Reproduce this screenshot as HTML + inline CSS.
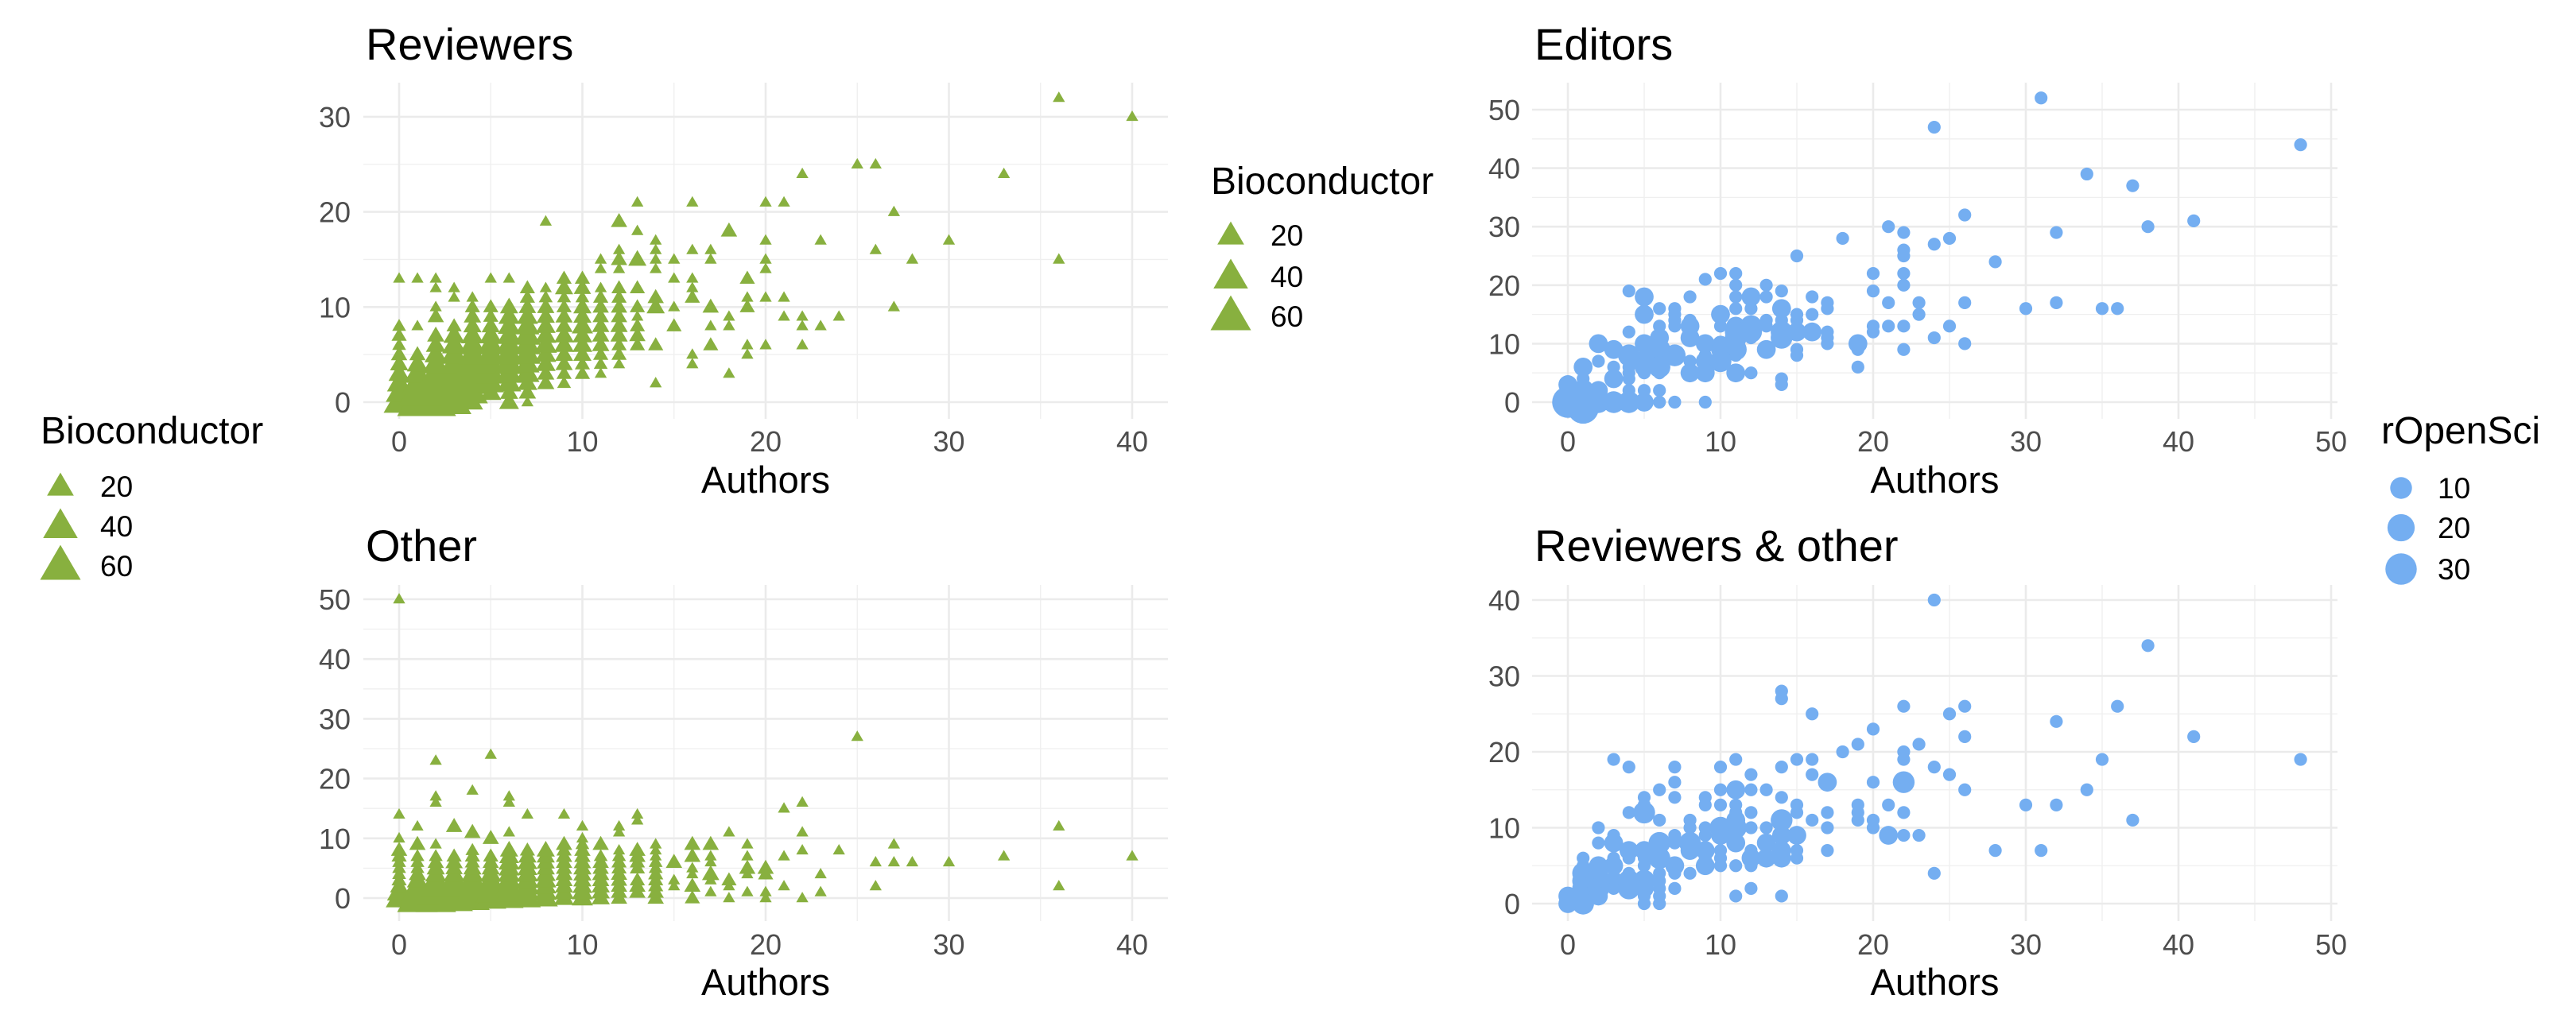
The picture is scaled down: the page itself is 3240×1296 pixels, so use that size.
<!DOCTYPE html>
<html><head><meta charset="utf-8"><style>
html,body{margin:0;padding:0;background:#fff;}
svg{display:block;font-family:"Liberation Sans",sans-serif;}
</style></head><body>
<svg id="chart" width="3240" height="1296" viewBox="0 0 3240 1296" xmlns="http://www.w3.org/2000/svg"></svg>
<script>
// Data: [authors, value, count]
const reviewersData = [
[36,32,1],[40,30,1],[25,25,1],[26,25,1],[22,24,1],[33,24,1],[13,21,1],[16,21,1],[20,21,1],[21,21,1],[8,19,1],[12,19,4],[27,20,1],[13,18,1],[18,18,4],[14,17,1],[20,17,1],[23,17,1],[30,17,1],[12,16,1],[14,16,1],[16,16,1],[17,16,1],[26,16,1],[11,15,1],[12,15,4],[13,15,6],[14,15,1],[15,15,1],[17,15,1],[20,15,1],[28,15,1],[36,15,1],[11,14,1],[12,14,1],[14,14,1],[20,14,1],[0,13,1],[1,13,1],[2,13,1],[5,13,1],[6,13,1],[9,13,3],[10,13,3],[15,13,1],[16,13,1],[19,13,3],[2,12,1],[3,12,1],[8,12,1],[11,12,1],[12,12,3],[13,12,3],[16,12,1],[3,11,1],[4,11,1],[8,11,2],[11,11,3],[12,11,3],[14,11,4],[16,11,3],[19,11,1],[20,11,1],[21,11,1],[2,10,1],[4,10,3],[5,10,3],[6,10,6],[7,10,5],[9,10,3],[10,10,6],[13,10,3],[14,10,6],[15,10,1],[17,10,4],[19,10,3],[27,10,1],[0,8,2],[1,8,1],[2,9,4],[18,9,1],[21,9,1],[22,9,1],[24,9,1],[22,8,1],[23,8,1],[18,8,1],[15,8,3],[17,8,1],[19,6,1],[20,6,1],[22,6,1],[17,6,3],[14,6,3],[16,5,1],[19,5,1],[16,4,1],[12,4,1],[11,3,1],[18,3,1],[14,2,1],
[0,0,30],[0,1,20],[0,2,15],[0,3,10],[0,4,6],[0,5,4],[0,6,2],[0,7,3],
[1,0,60],[1,1,50],[1,2,30],[1,3,20],[1,4,10],[1,5,4],
[2,0,60],[2,1,50],[2,2,40],[2,3,30],[2,4,20],[2,5,12],[2,6,8],[2,7,5],
[3,0,40],[3,1,40],[3,2,40],[3,3,30],[3,4,25],[3,5,20],[3,6,15],[3,7,10],[3,8,3],
[4,0,10],[4,1,30],[4,2,30],[4,3,30],[4,4,30],[4,5,25],[4,6,20],[4,7,12],[4,8,6],[4,9,5],
[5,1,10],[5,2,20],[5,3,25],[5,4,25],[5,5,25],[5,6,20],[5,7,12],[5,8,6],[5,9,3],
[6,0,8],[6,1,6],[6,2,15],[6,3,20],[6,4,25],[6,5,25],[6,6,20],[6,7,15],[6,8,12],[6,9,10],
[7,0,1],[7,1,5],[7,2,8],[7,3,15],[7,4,15],[7,5,20],[7,6,20],[7,7,20],[7,8,15],[7,9,10],[7,11,3],[7,12,3],
[8,2,5],[8,3,5],[8,4,8],[8,5,10],[8,6,12],[8,7,10],[8,8,8],[8,9,6],[8,10,5],
[9,2,2],[9,3,3],[9,4,5],[9,5,6],[9,6,8],[9,7,8],[9,8,5],[9,9,5],[9,11,2],[9,12,6],
[10,3,3],[10,4,3],[10,5,6],[10,6,8],[10,7,8],[10,8,10],[10,9,6],[10,11,2],[10,12,5],
[11,4,2],[11,5,3],[11,6,5],[11,7,5],[11,8,5],[11,9,4],[11,10,4],
[12,5,3],[12,6,3],[12,7,5],[12,8,5],[12,9,4],[12,10,4],
[13,6,3],[13,7,4],[13,8,3],[13,9,1]
];
const otherData = [
[0,50,1],[25,27,1],[5,24,1],[2,23,1],[4,18,1],[2,17,1],[6,17,1],[2,16,1],[6,16,1],[22,16,1],[21,15,1],[0,14,1],[7,14,1],[9,14,1],[13,14,1],[13,13,1],[1,12,1],[3,12,4],[10,12,1],[12,12,1],[36,12,1],[4,11,4],[6,11,1],[12,11,1],[18,11,1],[22,11,1],[0,10,1],[5,10,4],[10,10,1],[1,9,4],[2,9,1],[9,9,4],[11,9,4],[14,9,1],[16,9,4],[17,9,4],[19,9,1],[27,9,1],[0,8,4],[13,8,4],[22,8,1],[24,8,1],[21,7,1],[33,7,1],[40,7,1],[36,2,1],[26,2,1],[26,6,1],[27,6,1],[28,6,1],[30,6,1],[23,4,1],[23,1,1],[20,0,1],[22,0,1],[18,0,1],[18,2,1],[19,1,1],[21,2,1],[15,6,4],[15,3,1],[15,2,1],[16,7,4],[16,5,1],[16,4,1],[16,2,4],[16,0,3],[17,7,1],[17,6,1],[17,4,5],[17,3,1],[17,1,1],[18,3,3],[19,5,4],[19,4,1],[19,7,1],[20,5,4],[20,4,3],[20,1,1],
[0,0,20],[0,1,15],[0,2,6],[0,3,3],[0,4,2],[0,5,2],[0,6,2],[0,7,3],
[1,0,60],[1,1,40],[1,2,20],[1,3,10],[1,4,5],[1,5,2],[1,6,2],[1,7,2],
[2,0,60],[2,1,50],[2,2,30],[2,3,20],[2,4,10],[2,5,6],[2,6,4],[2,7,2],
[3,0,50],[3,1,40],[3,2,30],[3,3,20],[3,4,10],[3,5,5],[3,6,5],[3,7,3],
[4,0,40],[4,1,40],[4,2,25],[4,3,20],[4,4,12],[4,5,6],[4,6,3],[4,7,3],[4,8,2],
[5,0,30],[5,1,30],[5,2,20],[5,3,15],[5,4,10],[5,5,6],[5,6,4],[5,7,3],
[6,0,25],[6,1,20],[6,2,20],[6,3,15],[6,4,12],[6,5,10],[6,6,10],[6,7,8],[6,8,6],
[7,0,20],[7,1,15],[7,2,15],[7,3,12],[7,4,10],[7,5,8],[7,6,8],[7,7,6],[7,8,3],
[8,0,15],[8,1,12],[8,2,10],[8,3,10],[8,4,8],[8,5,6],[8,6,6],[8,7,6],[8,8,6],
[9,0,8],[9,1,8],[9,2,6],[9,3,5],[9,4,5],[9,5,4],[9,6,4],[9,7,4],[9,8,3],
[10,0,10],[10,1,10],[10,2,8],[10,3,6],[10,4,6],[10,5,6],[10,6,5],[10,7,4],[10,8,4],[10,9,2],
[11,0,6],[11,1,6],[11,2,6],[11,3,5],[11,4,5],[11,5,4],[11,6,4],[11,7,2],
[12,0,4],[12,1,4],[12,2,4],[12,3,4],[12,4,4],[12,5,3],[12,6,3],[12,7,2],[12,8,1],
[13,1,4],[13,2,4],[13,3,3],[13,5,3],[13,6,3],[13,7,4],
[14,0,4],[14,1,4],[14,2,3],[14,3,3],[14,4,3],[14,5,2],[14,6,2],[14,7,1],[14,8,1]
];
const editorsData = [
[31,52,1],[24,47,1],[48,44,1],[34,39,1],[37,37,1],[41,31,1],[26,32,1],[21,30,1],[38,30,1],[22,29,1],[32,29,1],[18,28,1],[25,28,1],[24,27,1],[22,26,1],[22,25,1],[15,25,1],[28,24,1],[10,22,1],[11,22,1],[20,22,1],[22,22,1],[9,21,1],[11,20,1],[13,20,1],[22,20,1],[4,19,1],[14,19,1],[20,19,1],[5,18,6],[8,18,1],[11,18,1],[12,18,6],[13,18,1],[16,18,1],[6,16,1],[7,16,1],[14,16,6],[17,17,1],[17,16,1],[21,17,1],[23,17,1],[26,17,1],[30,16,1],[32,17,1],[35,16,1],[36,16,1],[5,15,6],[7,15,1],[10,15,6],[11,16,1],[12,16,1],[15,15,1],[16,15,1],[23,15,1],[7,14,1],[8,14,1],[13,14,1],[14,14,1],[15,14,1],[6,13,1],[7,13,1],[8,13,6],[10,13,1],[11,13,6],[12,13,10],[13,13,1],[20,13,1],[21,13,1],[22,13,1],[25,13,1],[4,12,1],[11,12,10],[12,12,10],[14,12,10],[15,12,6],[16,12,6],[17,12,1],[20,12,1],[24,11,1],[6,11,6],[8,11,6],[11,11,10],[12,11,1],[14,11,10],[17,11,1],[2,10,6],[5,10,6],[9,10,6],[10,10,3],[19,10,6],[26,10,1],[3,9,6],[6,9,10],[10,9,6],[11,9,10],[13,9,6],[15,9,1],[17,10,1],[19,9,1],[4,8,10],[7,8,10],[9,8,1],[11,8,1],[15,8,1],[22,9,1],[2,7,1],[5,7,10],[8,7,1],[9,7,6],[10,7,10],[1,6,6],[3,6,1],[4,6,1],[5,6,6],[6,6,10],[19,6,1],[4,5,1],[5,5,1],[6,5,1],[8,5,6],[9,5,6],[11,5,6],[12,5,1],[1,4,1],[3,4,6],[4,4,1],[14,4,1],[14,3,1],[0,3,6],[0,2,1],[2,2,6],[4,2,1],[5,2,1],[6,2,1],[0,0,30],[1,0,30],[1,1,20],[2,0,10],[3,0,10],[4,0,10],[5,0,6],[6,0,1],[7,0,1],[9,0,1],[1,2,10],[2,1,6],[0,1,10],[1,-1,30]
];
const revOtherData = [
[24,40,1],[38,34,1],[14,28,1],[14,27,1],[22,26,1],[26,26,1],[36,26,1],[16,25,1],[25,25,1],[32,24,1],[20,23,1],[26,22,1],[41,22,1],[19,21,1],[23,21,1],[18,20,1],[22,20,1],[3,19,1],[11,19,1],[15,19,1],[16,19,1],[22,19,1],[35,19,1],[48,19,1],[4,18,1],[7,18,1],[10,18,1],[14,18,1],[24,18,1],[12,17,1],[16,17,1],[25,17,1],[7,16,1],[17,16,6],[20,16,1],[22,16,10],[6,15,1],[10,15,1],[11,15,6],[12,15,1],[13,15,1],[26,15,1],[34,15,1],[5,14,1],[7,14,1],[9,14,1],[14,14,1],[5,13,1],[9,13,1],[10,13,1],[11,13,1],[15,13,1],[19,13,1],[21,13,1],[30,13,1],[32,13,1],[4,12,1],[5,12,10],[11,12,1],[12,12,1],[15,12,1],[17,12,1],[19,12,1],[22,12,1],[6,11,1],[8,11,1],[11,11,6],[14,11,10],[16,11,1],[19,11,1],[20,11,1],[37,11,1],[2,10,1],[8,10,1],[9,10,1],[10,10,10],[11,10,10],[12,10,1],[13,10,1],[17,10,1],[20,10,1],[3,9,1],[7,9,1],[9,9,1],[10,9,6],[14,9,6],[15,9,6],[21,9,6],[22,9,1],[23,9,1],[2,8,1],[3,8,6],[6,8,10],[7,8,1],[8,8,10],[11,8,6],[13,8,6],[4,7,6],[5,7,6],[8,7,6],[9,7,6],[10,7,1],[12,7,1],[14,7,6],[15,7,1],[17,7,1],[28,7,1],[31,7,1],[1,6,1],[3,6,1],[4,6,1],[5,6,1],[6,6,10],[9,6,1],[10,6,1],[12,6,6],[13,6,6],[14,6,6],[15,6,1],[1,5,1],[2,5,6],[3,5,6],[5,5,1],[7,5,6],[9,5,6],[10,5,1],[11,5,1],[12,5,1],[1,4,10],[2,4,6],[4,4,1],[6,4,1],[7,4,1],[8,4,1],[24,4,1],[1,3,10],[2,3,6],[3,3,6],[4,3,10],[5,3,10],[6,3,1],[1,2,10],[2,2,10],[3,2,1],[4,2,10],[5,2,6],[6,2,1],[7,2,1],[12,2,1],[0,1,6],[1,1,6],[2,1,6],[5,1,1],[6,1,1],[11,1,1],[14,1,1],[0,0,6],[1,0,10],[5,0,1],[6,0,1]
];
const xTicksBio = [0,10,20,30,40];
const xTicksRos = [0,10,20,30,40,50];
const yTicksReviewers = [0,10,20,30];
const yTicksOther = [0,10,20,30,40,50];
const yTicksEditors = [0,10,20,30,40,50];
const yTicksRevOther = [0,10,20,30,40];
const bioLegendValues = [20,40,60];
const rosLegendValues = [10,20,30];

const NS = "http://www.w3.org/2000/svg";
const svg = document.getElementById('chart');
const GREEN = "#88B03F", BLUE = "#74AEF1";
function mk(tag, attrs, parent){ const e=document.createElementNS(NS,tag); for(const k in attrs) e.setAttribute(k,attrs[k]); (parent||svg).appendChild(e); return e; }
function txt(s, attrs, parent){ const e=mk('text',attrs,parent); e.textContent=s; return e; }
function triSide(c){ return 10 + 5.3*Math.sqrt(c); }
function circD(c){ return 11 + 5.2*Math.sqrt(c); }
function tri(cx, cy, s, g){
  const h = s*0.86;
  return mk('polygon',{points:`${cx},${cy-h*0.6} ${cx-s/2},${cy+h*0.4} ${cx+s/2},${cy+h*0.4}`, fill:GREEN}, g);
}

function panel(p){
  const g = mk('g',{});
  
  
  const sx = v => p.x0 + v*p.xu, sy = v => p.y0 - v*p.yu;
  const grid = mk('g',{},g);
  
  
  const xmax = p.xTicks[p.xTicks.length-1], ymax = p.yTicks[p.yTicks.length-1];
  for(let v=5; v<xmax; v+=10){ mk('line',{x1:sx(v),x2:sx(v),y1:p.top,y2:p.bottom,stroke:'#EFEFEF','stroke-width':1.3},grid); }
  for(let v=5; v<=ymax+5 && sy(v)>=p.top; v+=10){ mk('line',{x1:p.left,x2:p.right,y1:sy(v),y2:sy(v),stroke:'#EFEFEF','stroke-width':1.3},grid); }
  p.xTicks.forEach(v=>{ mk('line',{x1:sx(v),x2:sx(v),y1:p.top,y2:p.bottom,stroke:'#EBEBEB','stroke-width':2.6},grid); });
  p.yTicks.forEach(v=>{ mk('line',{x1:p.left,x2:p.right,y1:sy(v),y2:sy(v),stroke:'#EBEBEB','stroke-width':2.6},grid); });
  p.xTicks.forEach(v=>{ const t=txt(String(v),{x:sx(v),y:p.xLabY,'font-size':36,fill:'#4D4D4D','text-anchor':'middle'},g);
      });
  p.yTicks.forEach(v=>{ const t=txt(String(v),{x:p.yLabX,y:sy(v)+13,'font-size':36,fill:'#4D4D4D','text-anchor':'end'},g);
      });
  const ttl = txt(p.title,{x:p.titleX,y:p.titleY,'font-size':56,fill:'#000'},g);
   
  const xt = txt('Authors',{x:(p.left+p.right)/2,y:p.axTitleY,'font-size':47,fill:'#000','text-anchor':'middle'},g);
   
  const pts = mk('g',{},g);
   
  p.data.forEach(d=>{
    let e;
    if(p.shape==='tri'){ e = tri(sx(d[0]), sy(d[1]), triSide(d[2]), pts); }
    else { const r=circD(d[2])/2; e = mk('circle',{cx:sx(d[0]),cy:sy(d[1]),r:r,fill:BLUE},pts); }
    
    
  });
}

panel({name:'reviewers-panel',title:'Reviewers',data:reviewersData,shape:'tri',xTicks:xTicksBio,yTicks:yTicksReviewers,
  x0:502,xu:23.05,y0:506,yu:11.97,left:457,right:1469,top:104,bottom:527,xLabY:568,yLabX:441,titleX:460,titleY:75,axTitleY:620});
panel({name:'other-panel',title:'Other',data:otherData,shape:'tri',xTicks:xTicksBio,yTicks:yTicksOther,
  x0:502,xu:23.05,y0:1130,yu:7.52,left:457,right:1469,top:736,bottom:1159,xLabY:1201,yLabX:441,titleX:460,titleY:706,axTitleY:1252});
panel({name:'editors-panel',title:'Editors',data:editorsData,shape:'circ',xTicks:xTicksRos,yTicks:yTicksEditors,
  x0:1972,xu:19.2,y0:506,yu:7.36,left:1927,right:2940,top:104,bottom:527,xLabY:568,yLabX:1912,titleX:1930,titleY:75,axTitleY:620});
panel({name:'reviewers-other-panel',title:'Reviewers & other',data:revOtherData,shape:'circ',xTicks:xTicksRos,yTicks:yTicksRevOther,
  x0:1972,xu:19.2,y0:1137,yu:9.55,left:1927,right:2940,top:736,bottom:1159,xLabY:1201,yLabX:1912,titleX:1930,titleY:706,axTitleY:1252});

function legend(name, title, x, titleY, vals, ys, shape, labX){
  const g = mk('g',{});
   
  const t = txt(title,{x:x,y:titleY,'font-size':48,fill:'#000'},g);
   
  vals.forEach((v,i)=>{
    const cx = x + 25, cy = ys[i];
    let e;
    if(shape==='tri') e = tri(cx, cy, triSide(v), g);
    else { const r=circD(v)/2; e = mk('circle',{cx:cx,cy:cy,r:r,fill:BLUE},g); }
     
    const l = txt(String(v),{x:labX,y:cy+13,'font-size':37,fill:'#000'},g);
     
  });
}
legend('bioconductor-legend-left','Bioconductor',51,558,bioLegendValues,[612,662,712],'tri',126);
legend('bioconductor-legend-mid','Bioconductor',1523,244,bioLegendValues,[296,348,398],'tri',1598);
legend('ropensci-legend','rOpenSci',2995,558,rosLegendValues,[614,664,716],'circ',3066);
</script>
</body></html>
